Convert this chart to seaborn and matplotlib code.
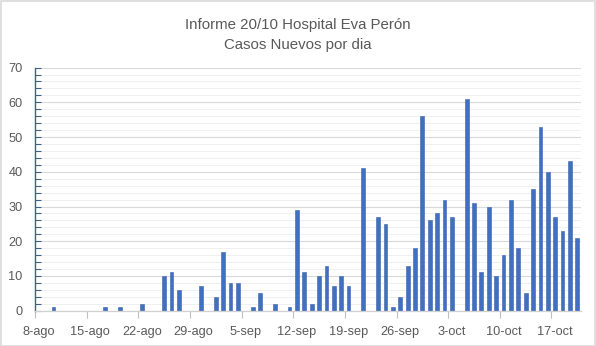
import matplotlib
matplotlib.use("Agg")
import matplotlib.pyplot as plt
from matplotlib.ticker import MultipleLocator, FixedLocator
from matplotlib.patches import Rectangle
import seaborn as sns
import pandas as pd

# ---- data ----
start_date = "2020-08-08"
n_days = 74
casos = [0, 0, 1, 0, 0, 0, 0, 0, 0, 1, 0, 1, 0, 0, 2, 0, 0, 10, 11, 6,
         0, 0, 7, 0, 4, 17, 8, 8, 0, 1, 5, 0, 2, 0, 1, 29, 11, 2, 10, 13,
         7, 10, 7, 0, 41, 0, 27, 25, 1, 4, 13, 18, 56, 26, 28, 32, 27, 0, 61, 31,
         11, 30, 10, 16, 32, 18, 5, 35, 53, 40, 27, 23, 43, 21]
tick_labels = ["8-ago", "15-ago", "22-ago", "29-ago", "5-sep", "12-sep",
               "19-sep", "26-sep", "3-oct", "10-oct", "17-oct"]
title_text = "Informe 20/10 Hospital Eva Perón\nCasos Nuevos por dia"

meses = {8: "ago", 9: "sep", 10: "oct"}
fechas = pd.date_range(start_date, periods=n_days, freq="D")
dias = [f"{d.day}-{meses[d.month]}" for d in fechas]
df = pd.DataFrame({"dia": dias, "casos": casos})

sns.set_theme(style="white")
plt.rcParams["font.family"] = ["Liberation Sans Narrow", "Liberation Sans", "DejaVu Sans"]

fig = plt.figure(figsize=(5.96, 3.46), dpi=100)
ax = fig.add_axes([35 / 596, 1 - 310.7 / 346, (581 - 35) / 596, (310.7 - 67.6) / 346])

sns.barplot(data=df, x="dia", y="casos", order=dias, color="#4270C0",
            saturation=1, width=0.52, ax=ax, edgecolor="#3A62AC", linewidth=0.4)

ax.set_xlim(-0.5, n_days - 0.5)
ax.set_ylim(0, 70)

# x ticks: labels at weekly day positions, tick marks at day boundaries
label_pos = [dias.index(t) for t in tick_labels]
ax.xaxis.set_major_locator(FixedLocator(label_pos))
ax.set_xticklabels(tick_labels)
ax.xaxis.set_minor_locator(FixedLocator([p - 0.5 for p in label_pos]))
ax.tick_params(axis="x", which="major", length=0, pad=11, labelsize=9.2, colors="#595959")
ax.tick_params(axis="x", which="minor", length=5, width=0.8, color="#BFBFBF", direction="out", bottom=True)

ax.yaxis.set_major_locator(MultipleLocator(10))
ax.yaxis.set_minor_locator(MultipleLocator(2))
ax.tick_params(axis="y", which="major", length=4, width=0.8, color="#3F5F8F", direction="in",
               left=True, labelsize=9.2, labelcolor="#595959", pad=9)
ax.tick_params(axis="y", which="minor", length=4, width=0.8, color="#3F5F8F", direction="in", left=True)

ax.grid(False)
ax.yaxis.grid(True, which="major", color="#D9D9D9", linewidth=0.8)
ax.yaxis.grid(True, which="minor", color="#ECECEC", linewidth=0.6)
ax.set_axisbelow(True)

for s in ["top", "right"]:
    ax.spines[s].set_visible(False)
ax.spines["left"].set_color("#3F5F8F")
ax.spines["left"].set_linewidth(1.0)
ax.spines["bottom"].set_color("#D0D0D0")
ax.spines["bottom"].set_linewidth(0.9)

ax.set_xlabel("")
ax.set_ylabel("")

fig.text(0.5, 1 - 35 / 346, title_text, ha="center", va="center", fontsize=10.8,
         color="#595959", linespacing=1.5)

fig.patches.append(Rectangle((0.001, 0.001), 0.997, 0.996, transform=fig.transFigure,
                             fill=False, edgecolor="#D9D9D9", linewidth=1.2))

fig.savefig("out.png", dpi=100)
